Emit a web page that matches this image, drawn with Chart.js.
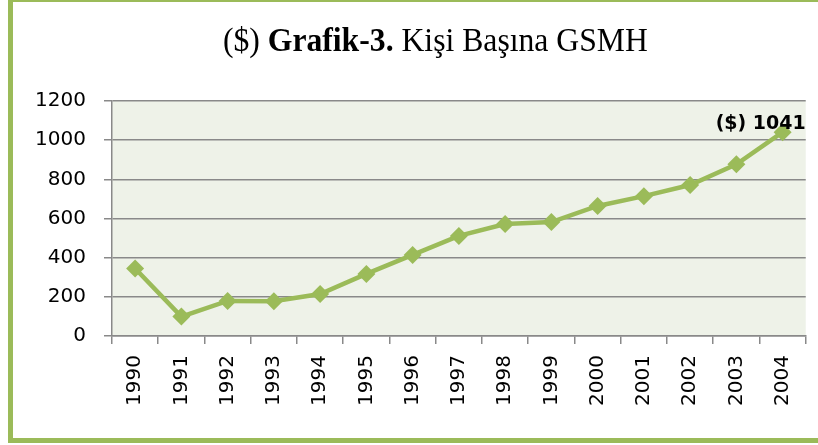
<!DOCTYPE html>
<html>
<head>
<meta charset="utf-8">
<script src="https://cdn.jsdelivr.net/npm/chart.js@4"></script>
<style>
  html, body { margin: 0; padding: 0; background: #ffffff; overflow: hidden; }
  #wrap { position: relative; width: 818px; height: 445px; overflow: hidden; background: #fff; }
  #frame { position: absolute; left: 8px; top: -3px; width: 900px; height: 446px; box-sizing: border-box; border: 5px solid #9BBB59; pointer-events: none; }
  #title { position: absolute; left: 0; top: 24px; width: 871px; text-align: center; font-family: "Liberation Serif", "Times New Roman", serif; font-size: 33px; line-height: 33px; color: #000; white-space: nowrap; }
  #title span.t { display: inline-block; transform-origin: center; }
  canvas { position: absolute; left: 0; top: 0; }
</style>
</head>
<body>
<div id="wrap">
  <canvas id="c" width="818" height="445"></canvas>
  <div id="title"><span class="t" id="tspan">($) <b>Grafik-3.</b> Kişi Başına GSMH</span></div>
  <div id="frame"></div>
</div>
<script>
const years = ["1990","1991","1992","1993","1994","1995","1996","1997","1998","1999","2000","2001","2002","2003","2004"];
const gsmhPerCapita = [345, 99, 179, 178, 214, 317, 414, 511, 572, 582, 664, 714, 771, 877, 1041];
const labelPrefix = "($) ";

// fit title width
(function(){
  const s = document.getElementById('tspan');
  const w = s.getBoundingClientRect().width;
  s.style.transform = 'scaleX(' + (425 / w) + ')';
})();

const green = '#9BBB59';
const gridGrey = '#898989';
const tickFont = '"DejaVu Sans", Verdana, sans-serif';

const plotBg = {
  id: 'plotBg',
  beforeDraw(chart) {
    const {ctx, chartArea: a} = chart;
    ctx.save();
    ctx.fillStyle = '#EEF2E8';
    ctx.fillRect(a.left, a.top, a.right - a.left, a.bottom - a.top);
    ctx.restore();
  }
};

const lastLabel = {
  id: 'lastLabel',
  afterDatasetsDraw(chart) {
    const meta = chart.getDatasetMeta(0);
    const i = meta.data.length - 1;
    const pt = meta.data[i];
    const v = chart.data.datasets[0].data[i];
    const ctx = chart.ctx;
    ctx.save();
    ctx.font = 'bold 19px ' + tickFont;
    ctx.fillStyle = '#000';
    ctx.textAlign = 'right';
    ctx.textBaseline = 'alphabetic';
    ctx.fillText(labelPrefix + v, chart.chartArea.right, pt.y - 3);
    ctx.restore();
  }
};

new Chart(document.getElementById('c'), {
  type: 'line',
  data: {
    labels: years,
    datasets: [{
      data: gsmhPerCapita,
      borderColor: green,
      backgroundColor: green,
      borderWidth: 4.5,
      pointStyle: 'rectRot',
      pointRadius: 9,
      pointBackgroundColor: green,
      pointBorderColor: green,
      pointBorderWidth: 0,
      tension: 0,
      fill: false
    }]
  },
  options: {
    responsive: false,
    devicePixelRatio: 1,
    animation: false,
    layout: { padding: { top: 101, right: 12, left: 0, bottom: 0 } },
    plugins: { legend: { display: false }, tooltip: { enabled: false }, title: { display: false } },
    scales: {
      x: {
        type: 'category',
        offset: true,
        grid: { offset: true, drawOnChartArea: false, drawTicks: true, tickLength: 8, color: gridGrey, lineWidth: 1.5 },
        border: { display: true, color: gridGrey, width: 1.5 },
        ticks: { minRotation: 90, maxRotation: 90, autoSkip: false, padding: 11, color: '#000',
                 font: { family: tickFont, size: 20 } },
        afterFit(scale) { scale.height = 109; }
      },
      y: {
        min: 0, max: 1200,
        ticks: { stepSize: 200, padding: 18, color: '#000',
                 font: { family: tickFont, size: 20 },
                 callback: (v) => String(v) },
        grid: { color: gridGrey, lineWidth: 1.5, tickLength: 8, drawTicks: true },
        border: { display: true, color: gridGrey, width: 1.5 },
        afterFit(scale) { scale.width = 112; }
      }
    }
  },
  plugins: [plotBg, lastLabel]
});
</script>
</body>
</html>
